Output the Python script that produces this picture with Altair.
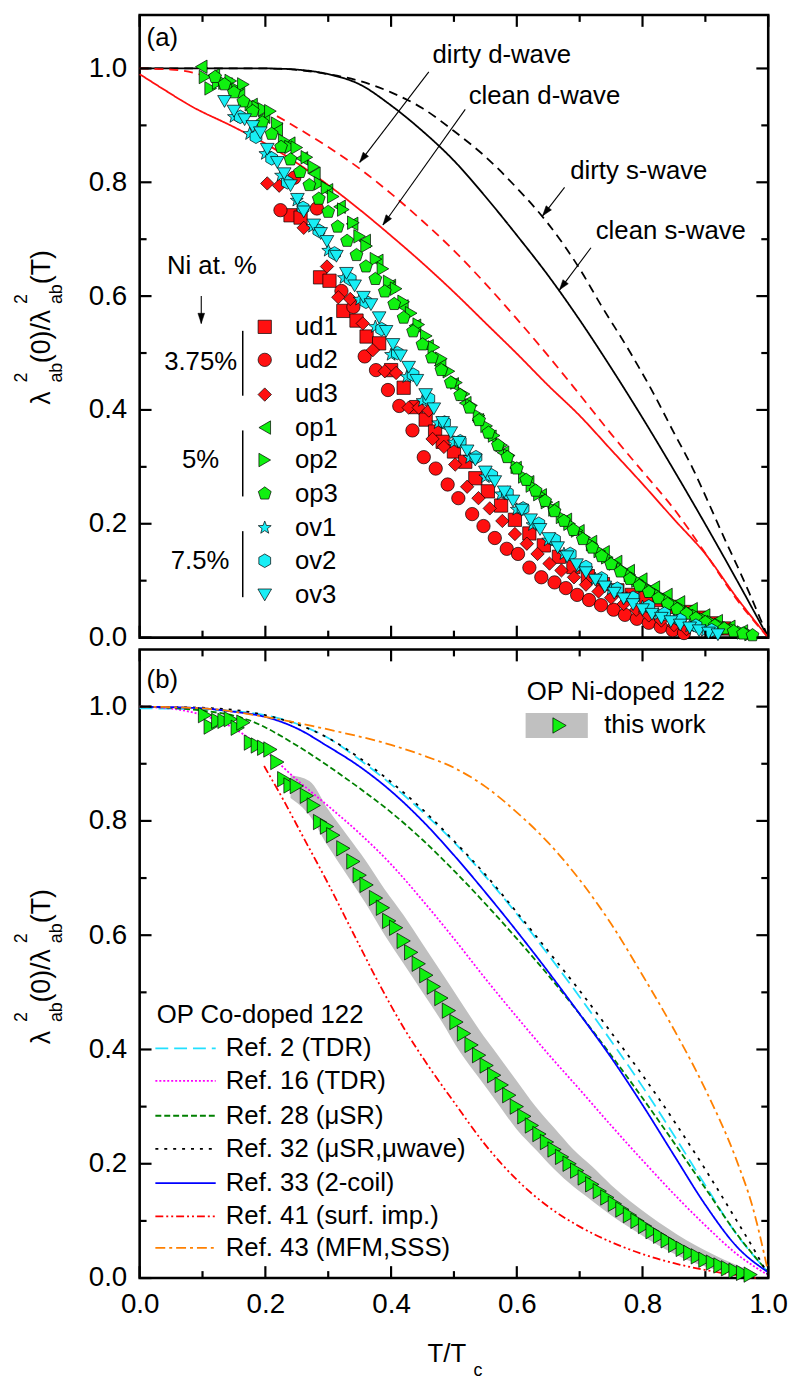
import math
import altair as alt
import pandas as pd

# ======================================================================
# DATA  (x = T/Tc, y = lambda^2 ratio)
# ======================================================================

# ---- panel (a): model curves ----
clean_s_t = [0.0, 0.1, 0.2, 0.25, 0.3, 0.35, 0.4, 0.45, 0.5, 0.55, 0.6, 0.65, 0.7, 0.75, 0.8, 0.85, 0.9, 0.95, 1.0]
clean_s_v = [1.0, 1.0, 1.0, 0.998, 0.99, 0.972, 0.935, 0.89, 0.838, 0.775, 0.707, 0.636, 0.558, 0.474, 0.386, 0.294, 0.199, 0.101, 0.0]

dirty_s_t = [0.0, 0.2, 0.3, 0.35, 0.4, 0.45, 0.5, 0.55, 0.6, 0.65, 0.7, 0.733, 0.781, 0.817, 0.849, 0.88, 0.907, 0.932, 0.954, 0.97, 1.0]
dirty_s_v = [1.0, 1.0, 0.99, 0.978, 0.958, 0.93, 0.89, 0.845, 0.79, 0.727, 0.648, 0.586, 0.5, 0.43, 0.362, 0.297, 0.232, 0.17, 0.118, 0.078, 0.0]

clean_d_t = [0.0, 0.04, 0.08, 0.15, 0.2, 0.25, 0.3, 0.35, 0.4, 0.45, 0.5, 0.55, 0.6, 0.65, 0.7, 0.75, 0.8, 0.85, 0.9, 0.95, 1.0]
clean_d_v = [0.99, 0.962, 0.935, 0.897, 0.868, 0.834, 0.795, 0.752, 0.706, 0.658, 0.607, 0.553, 0.499, 0.443, 0.39, 0.33, 0.27, 0.208, 0.147, 0.07, 0.0]

dirty_d_t = [0.0, 0.05, 0.1, 0.15, 0.2, 0.25, 0.3, 0.35, 0.4, 0.45, 0.5, 0.55, 0.6, 0.65, 0.7, 0.75, 0.8, 0.85, 0.9, 0.95, 1.0]
dirty_d_v = [1.0, 0.998, 0.988, 0.96, 0.928, 0.896, 0.862, 0.824, 0.78, 0.732, 0.68, 0.622, 0.56, 0.495, 0.427, 0.358, 0.292, 0.226, 0.148, 0.067, 0.0]

# ---- panel (a): measured samples ----
ud1_t = [0.240, 0.256, 0.287, 0.302, 0.324, 0.345, 0.361, 0.381, 0.400, 0.420, 0.440, 0.455, 0.470, 0.482, 0.500,
         0.518, 0.534, 0.554, 0.575, 0.597, 0.620, 0.643, 0.667, 0.690, 0.713, 0.737, 0.760, 0.783, 0.806, 0.828,
         0.849, 0.870, 0.890, 0.910, 0.930]
ud1_v = [0.742, 0.738, 0.633, 0.627, 0.574, 0.557, 0.529, 0.517, 0.470, 0.439, 0.405, 0.383, 0.362, 0.344, 0.327,
         0.309, 0.280, 0.257, 0.232, 0.207, 0.183, 0.162, 0.142, 0.124, 0.108, 0.094, 0.083, 0.075, 0.070, 0.066,
         0.054, 0.045, 0.035, 0.025, 0.016]

ud2_t = [0.224, 0.246, 0.282, 0.321, 0.340, 0.358, 0.376, 0.395, 0.413, 0.434, 0.452, 0.471, 0.490, 0.507, 0.529,
         0.547, 0.565, 0.584, 0.602, 0.620, 0.639, 0.660, 0.678, 0.696, 0.715, 0.734, 0.754, 0.772, 0.791, 0.810,
         0.829, 0.848, 0.866]
ud2_v = [0.751, 0.808, 0.754, 0.609, 0.581, 0.494, 0.470, 0.435, 0.407, 0.364, 0.317, 0.297, 0.269, 0.245, 0.217,
         0.196, 0.175, 0.156, 0.147, 0.123, 0.106, 0.097, 0.087, 0.075, 0.066, 0.057, 0.049, 0.040, 0.033, 0.026,
         0.019, 0.013, 0.008]

ud3_t = [0.203, 0.222, 0.261, 0.298, 0.316, 0.335, 0.355, 0.371, 0.390, 0.408, 0.428, 0.444, 0.460, 0.466, 0.484,
         0.502, 0.521, 0.539, 0.557, 0.577, 0.597, 0.616, 0.633, 0.652, 0.671, 0.691, 0.710, 0.730, 0.750, 0.770,
         0.790, 0.810, 0.830, 0.850, 0.870]
ud3_v = [0.798, 0.794, 0.720, 0.652, 0.598, 0.595, 0.552, 0.505, 0.468, 0.465, 0.404, 0.404, 0.399, 0.349, 0.335,
         0.304, 0.265, 0.245, 0.227, 0.205, 0.182, 0.165, 0.147, 0.130, 0.118, 0.106, 0.093, 0.081, 0.070, 0.059,
         0.049, 0.039, 0.030, 0.022, 0.015]

op1_t = [0.098, 0.118, 0.138, 0.158, 0.178, 0.198, 0.218, 0.238, 0.258, 0.278, 0.298, 0.318, 0.338, 0.358, 0.378,
         0.398, 0.418, 0.438, 0.458, 0.478, 0.498, 0.518, 0.538, 0.558, 0.578, 0.598, 0.618, 0.638, 0.658, 0.678,
         0.698, 0.718, 0.738, 0.758, 0.778, 0.798, 0.818, 0.838, 0.858, 0.878, 0.898, 0.918, 0.938, 0.958]
op1_v = [1.003, 0.988, 0.972, 0.955, 0.936, 0.915, 0.893, 0.868, 0.842, 0.815, 0.786, 0.757, 0.727, 0.697, 0.662,
         0.618, 0.582, 0.548, 0.512, 0.478, 0.445, 0.412, 0.382, 0.353, 0.325, 0.298, 0.273, 0.250, 0.228, 0.207,
         0.187, 0.168, 0.150, 0.133, 0.117, 0.102, 0.088, 0.075, 0.062, 0.050, 0.039, 0.029, 0.019, 0.011]

# op2 is also the "this work" set of panel (b)
op2_t = [0.104, 0.113, 0.125, 0.135, 0.145, 0.156, 0.165, 0.177, 0.188, 0.198, 0.208, 0.219, 0.230, 0.240, 0.250,
         0.266, 0.277, 0.287, 0.298, 0.308, 0.324, 0.340, 0.350, 0.361, 0.376, 0.387, 0.397, 0.408, 0.420, 0.432,
         0.444, 0.456, 0.468, 0.480, 0.492, 0.504, 0.516, 0.528, 0.540, 0.552, 0.564, 0.576, 0.588, 0.600, 0.612,
         0.624, 0.636, 0.648, 0.660, 0.672, 0.684, 0.696, 0.708, 0.720, 0.732, 0.744, 0.756, 0.768, 0.780, 0.792,
         0.804, 0.816, 0.828, 0.840, 0.852, 0.864, 0.876, 0.888, 0.900, 0.912, 0.924, 0.936, 0.948, 0.960, 0.972]
op2_v = [0.985, 0.965, 0.975, 0.975, 0.978, 0.963, 0.972, 0.937, 0.932, 0.928, 0.925, 0.903, 0.873, 0.862, 0.861,
         0.844, 0.827, 0.798, 0.790, 0.775, 0.752, 0.729, 0.705, 0.688, 0.665, 0.648, 0.625, 0.613, 0.590, 0.570,
         0.550, 0.530, 0.510, 0.490, 0.468, 0.448, 0.428, 0.408, 0.390, 0.372, 0.355, 0.338, 0.320, 0.300, 0.283,
         0.267, 0.252, 0.238, 0.225, 0.212, 0.200, 0.188, 0.176, 0.164, 0.152, 0.141, 0.130, 0.120, 0.110, 0.100,
         0.091, 0.082, 0.074, 0.066, 0.058, 0.051, 0.044, 0.038, 0.032, 0.027, 0.022, 0.017, 0.013, 0.009, 0.006]

op3_t = [0.120, 0.135, 0.150, 0.165, 0.180, 0.195, 0.210, 0.225, 0.240, 0.255, 0.270, 0.285, 0.300, 0.315, 0.330,
         0.345, 0.360, 0.375, 0.390, 0.405, 0.420, 0.435, 0.450, 0.465, 0.480, 0.495, 0.510, 0.525, 0.540, 0.555,
         0.570, 0.585, 0.600, 0.615, 0.630, 0.645, 0.660, 0.675, 0.690, 0.705, 0.720, 0.735, 0.750, 0.765, 0.780,
         0.795, 0.810, 0.825, 0.840, 0.855, 0.870, 0.885, 0.900, 0.915, 0.930, 0.945, 0.960, 0.975]
op3_v = [0.985, 0.972, 0.958, 0.942, 0.925, 0.905, 0.885, 0.862, 0.840, 0.818, 0.795, 0.771, 0.748, 0.722, 0.697,
         0.672, 0.652, 0.630, 0.608, 0.586, 0.562, 0.538, 0.515, 0.492, 0.470, 0.448, 0.426, 0.404, 0.382, 0.360,
         0.338, 0.317, 0.297, 0.277, 0.258, 0.240, 0.222, 0.205, 0.189, 0.173, 0.158, 0.143, 0.129, 0.116, 0.103,
         0.091, 0.080, 0.069, 0.059, 0.050, 0.042, 0.034, 0.027, 0.021, 0.016, 0.011, 0.007, 0.004]

ov1_t = [0.150, 0.175, 0.200, 0.225, 0.250, 0.275, 0.300, 0.325, 0.350, 0.375, 0.400, 0.425, 0.450, 0.475, 0.500,
         0.525, 0.550, 0.575, 0.600, 0.625, 0.650, 0.675, 0.700, 0.725, 0.750, 0.775, 0.800, 0.825, 0.850, 0.875,
         0.900]
ov1_v = [0.915, 0.885, 0.850, 0.812, 0.768, 0.722, 0.680, 0.632, 0.594, 0.546, 0.497, 0.458, 0.416, 0.377, 0.343,
         0.316, 0.282, 0.252, 0.225, 0.198, 0.171, 0.147, 0.124, 0.103, 0.085, 0.069, 0.054, 0.041, 0.030, 0.020,
         0.012]

ov2_t = [0.160, 0.185, 0.210, 0.235, 0.260, 0.285, 0.310, 0.335, 0.360, 0.385, 0.410, 0.435, 0.460, 0.485, 0.510,
         0.535, 0.560, 0.585, 0.610, 0.635, 0.660, 0.685, 0.710, 0.735, 0.760, 0.785, 0.810, 0.835, 0.860, 0.885,
         0.910]
ov2_v = [0.915, 0.880, 0.842, 0.800, 0.755, 0.715, 0.675, 0.630, 0.590, 0.542, 0.500, 0.462, 0.420, 0.378, 0.345,
         0.317, 0.285, 0.254, 0.227, 0.200, 0.172, 0.147, 0.124, 0.104, 0.086, 0.070, 0.055, 0.042, 0.031, 0.021,
         0.013]

ov3_t = [0.135, 0.150, 0.167, 0.180, 0.192, 0.203, 0.219, 0.230, 0.240, 0.251, 0.261, 0.277, 0.288, 0.298, 0.313,
         0.329, 0.342, 0.356, 0.368, 0.381, 0.392, 0.403, 0.415, 0.428, 0.441, 0.455, 0.468, 0.482, 0.495, 0.508,
         0.521, 0.534, 0.550, 0.565, 0.580, 0.594, 0.608, 0.622, 0.637, 0.651, 0.665, 0.680, 0.695, 0.710, 0.725,
         0.740, 0.755, 0.770, 0.785, 0.800, 0.815, 0.830, 0.845, 0.860, 0.875, 0.890, 0.905, 0.920]
ov3_v = [0.942, 0.925, 0.910, 0.898, 0.887, 0.858, 0.835, 0.815, 0.794, 0.770, 0.748, 0.725, 0.710, 0.696, 0.670,
         0.640, 0.618, 0.598, 0.585, 0.562, 0.538, 0.515, 0.495, 0.475, 0.452, 0.427, 0.402, 0.378, 0.360, 0.343,
         0.328, 0.312, 0.291, 0.274, 0.256, 0.240, 0.224, 0.207, 0.190, 0.174, 0.158, 0.142, 0.128, 0.114, 0.101,
         0.089, 0.078, 0.068, 0.058, 0.049, 0.041, 0.034, 0.028, 0.022, 0.017, 0.012, 0.008, 0.005]

# ---- panel (b): literature curves (OP Co-doped 122) ----
ref2_t = [0.0, 0.1, 0.2, 0.25, 0.3, 0.35, 0.4, 0.45, 0.5, 0.55, 0.6, 0.65, 0.7, 0.75, 0.8, 0.85, 0.9, 0.95, 0.98, 1.0]
ref2_v = [0.997, 0.995, 0.985, 0.97, 0.945, 0.907, 0.864, 0.816, 0.763, 0.703, 0.637, 0.566, 0.492, 0.415, 0.335, 0.25, 0.162, 0.076, 0.035, 0.01]

ref16_t = [0.0, 0.066, 0.1, 0.15, 0.2, 0.25, 0.3, 0.35, 0.4, 0.45, 0.5, 0.55, 0.6, 0.65, 0.7, 0.75, 0.8, 0.85, 0.9, 0.95, 1.0]
ref16_v = [1.0, 0.994, 0.985, 0.962, 0.922, 0.872, 0.826, 0.778, 0.724, 0.661, 0.594, 0.524, 0.457, 0.392, 0.33, 0.267, 0.206, 0.147, 0.092, 0.042, 0.005]

ref28_t = [0.0, 0.1, 0.172, 0.25, 0.3, 0.35, 0.4, 0.45, 0.5, 0.55, 0.6, 0.65, 0.7, 0.75, 0.8, 0.85, 0.9, 0.95, 1.0]
ref28_v = [1.0, 0.993, 0.977, 0.932, 0.896, 0.857, 0.815, 0.767, 0.713, 0.655, 0.594, 0.53, 0.462, 0.39, 0.315, 0.237, 0.157, 0.077, 0.01]

ref32_t = [0.0, 0.1, 0.2, 0.3, 0.35, 0.4, 0.45, 0.5, 0.55, 0.6, 0.65, 0.7, 0.75, 0.8, 0.85, 0.9, 0.95, 0.98, 1.0]
ref32_v = [1.0, 0.998, 0.985, 0.945, 0.91, 0.868, 0.82, 0.765, 0.706, 0.64, 0.572, 0.503, 0.43, 0.355, 0.275, 0.19, 0.1, 0.045, 0.005]

ref33_t = [0.0, 0.1, 0.15, 0.2, 0.25, 0.3, 0.35, 0.4, 0.45, 0.5, 0.55, 0.6, 0.65, 0.7, 0.75, 0.8, 0.85, 0.9, 0.95, 1.0]
ref33_v = [1.0, 0.997, 0.991, 0.982, 0.962, 0.93, 0.895, 0.852, 0.8, 0.74, 0.675, 0.607, 0.536, 0.462, 0.386, 0.303, 0.215, 0.128, 0.055, 0.01]

ref41_t = [0.198, 0.23, 0.261, 0.3, 0.34, 0.38, 0.42, 0.46, 0.5, 0.55, 0.6, 0.65, 0.7, 0.75, 0.8, 0.85, 0.9, 0.95, 0.98]
ref41_v = [0.896, 0.834, 0.77, 0.69, 0.603, 0.517, 0.438, 0.37, 0.308, 0.233, 0.172, 0.125, 0.09, 0.063, 0.042, 0.026, 0.014, 0.005, 0.0]

ref43_t = [0.0, 0.1, 0.2, 0.3, 0.4, 0.45, 0.5, 0.55, 0.6, 0.65, 0.7, 0.75, 0.8, 0.85, 0.9, 0.95, 0.975, 1.0]
ref43_v = [1.0, 0.997, 0.982, 0.96, 0.933, 0.915, 0.893, 0.86, 0.815, 0.762, 0.697, 0.62, 0.53, 0.435, 0.33, 0.205, 0.125, 0.01]

# ---- panel (b): uncertainty band around "this work" ----
band_t = [0.24, 0.27, 0.30, 0.33, 0.36, 0.39, 0.42, 0.45, 0.48, 0.51, 0.54, 0.57, 0.60, 0.63, 0.66, 0.69, 0.72,
          0.75, 0.78, 0.81, 0.84, 0.87, 0.90, 0.93, 0.96]
band_hi = [0.88, 0.87, 0.82, 0.775, 0.73, 0.68, 0.635, 0.585, 0.535, 0.485, 0.435, 0.39, 0.345, 0.30, 0.262,
           0.225, 0.195, 0.163, 0.135, 0.11, 0.087, 0.066, 0.048, 0.032, 0.018]
band_lo = [0.84, 0.81, 0.755, 0.705, 0.655, 0.60, 0.55, 0.50, 0.45, 0.395, 0.35, 0.305, 0.26, 0.225, 0.19,
           0.16, 0.135, 0.11, 0.088, 0.067, 0.048, 0.032, 0.02, 0.01, 0.004]

# ---- names / labels ----
SERIES = ["ud1", "ud2", "ud3", "op1", "op2", "op3", "ov1", "ov2", "ov3"]
MODELS = ["clean s-wave", "dirty s-wave", "clean d-wave", "dirty d-wave"]
REFS = ["Ref. 2 (TDR)", "Ref. 16 (TDR)", "Ref. 28 (μSR)", "Ref. 32 (μSR,μwave)",
        "Ref. 33 (2-coil)", "Ref. 41 (surf. imp.)", "Ref. 43 (MFM,SSS)"]
TICK_MAJ = [0.0, 0.2, 0.4, 0.6, 0.8, 1.0]
TICK_MIN = [0.1, 0.3, 0.5, 0.7, 0.9]

# ======================================================================
# STYLE / LAYOUT
# ======================================================================
FONT = "Liberation Sans"
W, HA, HB = 635, 629, 635
TOP_A, TOP_B = 1.094, 1.1
RED, GREEN, CYAN = "#ff1010", "#10f010", "#18eef5"


def poly_path(n, inner=None):
    pts = []
    k = 2 * n if inner else n
    for i in range(k):
        a = 2 * math.pi * i / k
        r = (inner if (inner and i % 2) else 1.0)
        pts.append((r * math.sin(a), -r * math.cos(a)))
    return "M" + "L".join(f"{x:.3f},{y:.3f}" for x, y in pts) + "Z"


PENTAGON = poly_path(5)
HEXAGON = poly_path(6)
STAR = poly_path(5, inner=0.42)
HEAD = "M0,0L0.33,1L-0.33,1Z"

SER_COLOR = [RED, RED, RED, GREEN, GREEN, GREEN, CYAN, CYAN, CYAN]
SER_SHAPE = ["square", "circle", "diamond", "triangle-left", "triangle-right", PENTAGON, STAR, HEXAGON, "triangle-down"]
SER_SIZE = [180, 190, 250, 240, 240, 240, 250, 220, 240]

MOD_COLOR = ["black", "black", RED, RED]
MOD_DASH = [[1, 0], [9, 6], [1, 0], [9, 6]]

REF_COLOR = ["#22e0ff", "#ff00ff", "#008000", "black", "#0000ff", "#ff0000", "#ff8000"]
REF_DASH = [[13, 6], [2, 2], [6, 3], [3, 6], [1, 0], [8, 3, 2, 3, 2, 3], [10, 4, 3, 4]]

AX_X_OFF = alt.Axis(labels=False, ticks=False, tickSize=0, domain=False, grid=False, title=None)
AX_X_LAB = alt.Axis(values=TICK_MAJ, format=".1f", labelFontSize=28, labelFont=FONT, labelColor="black",
                    labelPadding=13, labelFlush=False, ticks=False, tickSize=0, domain=False, grid=False,
                    title=None)
AX_Y = alt.Axis(values=TICK_MAJ, format=".1f", labelFontSize=28, labelFont=FONT, labelColor="black",
                labelPadding=13, labelFlush=False, ticks=False, tickSize=0, domain=False, grid=False, title=None)


def X(field, labels):
    return alt.X(f"{field}:Q", scale=alt.Scale(domain=[0, 1], nice=False, zero=False),
                 axis=AX_X_LAB if labels else AX_X_OFF)


def Y(field, top):
    return alt.Y(f"{field}:Q", scale=alt.Scale(domain=[0, top], nice=False, zero=False), axis=AX_Y)


def long_df(names, ts, vs, key):
    rows = []
    for n, tt, vv in zip(names, ts, vs):
        for t, v in zip(tt, vv):
            rows.append({key: n, "t": t, "v": v})
    return pd.DataFrame(rows)


def tick_layers(H, top, labels):
    out = []
    for vals, L in ((TICK_MAJ, 12), (TICK_MIN, 7)):
        base = alt.Chart(pd.DataFrame({"p": vals})).mark_rule(color="black", strokeWidth=2.2)
        out.append(base.encode(x=X("p", labels), y=alt.value(H), y2=alt.value(H - L)))
        out.append(base.encode(x=X("p", labels), y=alt.value(0), y2=alt.value(L)))
        out.append(base.encode(y=Y("p", top), x=alt.value(0), x2=alt.value(L)))
        out.append(base.encode(y=Y("p", top), x=alt.value(W), x2=alt.value(W - L)))
    return out


def ytitle_layers(top):
    main = pd.DataFrame({"v": [0.409, 0.482, 0.621], "s": ["λ", "(0)/λ", "(T)"]})
    sub = pd.DataFrame({"v": [0.448, 0.586], "s": ["ab", "ab"]})
    sup = pd.DataFrame({"v": [0.448, 0.586], "s": ["2", "2"]})
    out = []
    for df, xpx, fs in ((main, -91, 27), (sub, -78, 18), (sup, -114, 18)):
        out.append(alt.Chart(df).mark_text(angle=270, align="left", baseline="alphabetic", font=FONT,
                                           fontSize=fs, color="black")
                   .encode(y=Y("v", top), x=alt.value(xpx), text="s:N"))
    return out


def text_layer(df, top, labels, align, fs=26):
    return alt.Chart(df).mark_text(align=align, baseline="middle", font=FONT, fontSize=fs, color="black").encode(
        x=X("t", labels), y=Y("v", top), text="s:N")


def arrows(df, H, top, labels):
    ppx, ppy = W / 1.0, H / top
    df = df.copy()
    df["ang"] = [math.degrees(math.atan2((r.t1 - r.t0) * ppx, (r.v1 - r.v0) * ppy)) % 360 for r in df.itertuples()]
    line = alt.Chart(df).mark_rule(color="black", strokeWidth=1.1).encode(
        x=X("t0", labels), y=Y("v0", top), x2="t1:Q", y2="v1:Q")
    head = alt.Chart(df).mark_point(shape=HEAD, filled=True, fill="black", stroke="black", strokeWidth=0.5,
                                    size=420, opacity=1).encode(
        x=X("t1", labels), y=Y("v1", top), angle=alt.Angle("ang:Q", scale=None))
    return [line, head]


# ======================================================================
# PANEL (a)
# ======================================================================
df_models = long_df(MODELS, [clean_s_t, dirty_s_t, clean_d_t, dirty_d_t],
                    [clean_s_v, dirty_s_v, clean_d_v, dirty_d_v], "c")
models = alt.Chart(df_models).mark_line(strokeWidth=1.8, interpolate="monotone").encode(
    x=X("t", False), y=Y("v", TOP_A),
    stroke=alt.Stroke("c:N", scale=alt.Scale(domain=MODELS, range=MOD_COLOR), legend=None),
    strokeDash=alt.StrokeDash("c:N", scale=alt.Scale(domain=MODELS, range=MOD_DASH), legend=None))

df_pts = long_df(SERIES,
                 [ud1_t, ud2_t, ud3_t, op1_t, op2_t, op3_t, ov1_t, ov2_t, ov3_t],
                 [ud1_v, ud2_v, ud3_v, op1_v, op2_v, op3_v, ov1_v, ov2_v, ov3_v], "s")

fill_s = alt.Fill("s:N", scale=alt.Scale(domain=SERIES, range=SER_COLOR), legend=None)
shape_s = alt.Shape("s:N", scale=alt.Scale(domain=SERIES, range=SER_SHAPE), legend=None)
size_s = alt.Size("s:O", scale=alt.Scale(domain=SERIES, range=SER_SIZE), legend=None)

points = alt.Chart(df_pts).mark_point(filled=True, stroke="black", strokeWidth=0.7, opacity=1).encode(
    x=X("t", False), y=Y("v", TOP_A), fill=fill_s, shape=shape_s, size=size_s)

# legend of panel (a)
LEG_A_V = [0.546, 0.488, 0.427, 0.369, 0.312, 0.253, 0.193, 0.135, 0.075]
df_lega = pd.DataFrame({"s": SERIES, "t": [0.199] * 9, "v": LEG_A_V})
leg_pts = alt.Chart(df_lega).mark_point(filled=True, stroke="black", strokeWidth=0.7, opacity=1).encode(
    x=X("t", False), y=Y("v", TOP_A), fill=fill_s, shape=shape_s, size=size_s)
leg_txt = text_layer(pd.DataFrame({"s": SERIES, "t": [0.247] * 9, "v": LEG_A_V}), TOP_A, False, "left")

brackets = alt.Chart(pd.DataFrame({"t": [0.164] * 3, "v0": [0.539, 0.364, 0.187], "v1": [0.425, 0.248, 0.071]})
                     ).mark_rule(color="black", strokeWidth=1.5).encode(x=X("t", False), y=Y("v0", TOP_A), y2="v1:Q")

ann_a = pd.DataFrame({
    "s": ["dirty d-wave", "clean d-wave", "dirty s-wave", "clean s-wave", "Ni at. %", "3.75%", "5%", "7.5%"],
    "t": [0.576, 0.644, 0.794, 0.845, 0.115, 0.097, 0.097, 0.096],
    "v": [1.024, 0.952, 0.820, 0.715, 0.652, 0.484, 0.312, 0.135]})
ann_a_l = text_layer(ann_a, TOP_A, False, "center")
lab_a = text_layer(pd.DataFrame({"s": ["(a)"], "t": [0.011], "v": [1.053]}), TOP_A, False, "left")

arr_a = pd.DataFrame({
    "t0": [0.460, 0.518, 0.676, 0.718, 0.098],
    "v0": [0.994, 0.928, 0.791, 0.685, 0.600],
    "t1": [0.350, 0.387, 0.641, 0.668, 0.098],
    "v1": [0.835, 0.725, 0.741, 0.611, 0.552]})

panel_a = alt.layer(
    models, *arrows(arr_a, HA, TOP_A, False), brackets, points, leg_pts, leg_txt, ann_a_l, lab_a,
    *tick_layers(HA, TOP_A, False), *ytitle_layers(TOP_A)
).properties(width=W, height=HA)

# ======================================================================
# PANEL (b)
# ======================================================================
df_refs = long_df(REFS, [ref2_t, ref16_t, ref28_t, ref32_t, ref33_t, ref41_t, ref43_t],
                  [ref2_v, ref16_v, ref28_v, ref32_v, ref33_v, ref41_v, ref43_v], "c")
stroke_r = alt.Stroke("c:N", scale=alt.Scale(domain=REFS, range=REF_COLOR), legend=None)
dash_r = alt.StrokeDash("c:N", scale=alt.Scale(domain=REFS, range=REF_DASH), legend=None)

band = alt.Chart(pd.DataFrame({"t": band_t, "lo": band_lo, "hi": band_hi})).mark_area(
    color="#c0c0c0", opacity=1, interpolate="monotone").encode(x=X("t", True), y=Y("lo", TOP_B), y2="hi:Q")

refs = alt.Chart(df_refs).mark_line(strokeWidth=1.8, interpolate="monotone").encode(
    x=X("t", True), y=Y("v", TOP_B), stroke=stroke_r, strokeDash=dash_r)

work = alt.Chart(pd.DataFrame({"t": op2_t, "v": op2_v})).mark_point(
    shape="triangle-right", filled=True, fill=GREEN, stroke="black", strokeWidth=0.7, size=240, opacity=1
).encode(x=X("t", True), y=Y("v", TOP_B))

LEG_B_V = [0.402, 0.345, 0.284, 0.226, 0.166, 0.108, 0.053]
leg_lines = alt.Chart(pd.DataFrame({"c": REFS, "t0": [0.025] * 7, "t1": [0.121] * 7, "v": LEG_B_V})).mark_rule(
    strokeWidth=1.8).encode(x=X("t0", True), x2="t1:Q", y=Y("v", TOP_B), stroke=stroke_r, strokeDash=dash_r)
leg_b_txt = text_layer(pd.DataFrame({"s": REFS, "t": [0.137] * 7, "v": LEG_B_V}), TOP_B, True, "left")

txt_b = text_layer(pd.DataFrame({"s": ["OP Co-doped 122", "OP Ni-doped 122", "this work", "(b)"],
                                 "t": [0.027, 0.616, 0.739, 0.011],
                                 "v": [0.461, 1.025, 0.967, 1.046]}), TOP_B, True, "left")

work_box = alt.Chart(pd.DataFrame({"t0": [0.614], "t1": [0.713], "v0": [0.945], "v1": [0.989]})).mark_rect(
    color="#c0c0c0").encode(x=X("t0", True), x2="t1:Q", y=Y("v0", TOP_B), y2="v1:Q")
work_sym = alt.Chart(pd.DataFrame({"t": [0.668], "v": [0.967]})).mark_point(
    shape="triangle-right", filled=True, fill=GREEN, stroke="black", strokeWidth=0.7, size=240, opacity=1
).encode(x=X("t", True), y=Y("v", TOP_B))

xt_main = alt.Chart(pd.DataFrame({"t": [0.458], "s": ["T/T"]})).mark_text(
    align="left", baseline="alphabetic", font=FONT, fontSize=26, color="black").encode(
    x=X("t", True), y=alt.value(HB + 85), text="s:N")
xt_sub = alt.Chart(pd.DataFrame({"t": [0.531], "s": ["c"]})).mark_text(
    align="left", baseline="alphabetic", font=FONT, fontSize=18, color="black").encode(
    x=X("t", True), y=alt.value(HB + 99), text="s:N")

panel_b = alt.layer(
    band, refs, work, leg_lines, leg_b_txt, txt_b, work_box, work_sym, xt_main, xt_sub,
    *tick_layers(HB, TOP_B, True), *ytitle_layers(TOP_B)
).properties(width=W, height=HB)

chart = alt.vconcat(panel_a, panel_b, spacing=12, bounds="flush").resolve_scale(
    x="independent", y="independent", stroke="independent", strokeDash="independent",
    fill="independent", shape="independent", size="independent"
).properties(
    autosize=alt.AutoSizeParams(type="none"),
    padding={"left": 133, "top": 0, "right": 23, "bottom": 1376}
).configure(font=FONT).configure_view(stroke="black", strokeWidth=2.6)

chart.save("out.html", embed_options={"renderer": "svg", "actions": False})
